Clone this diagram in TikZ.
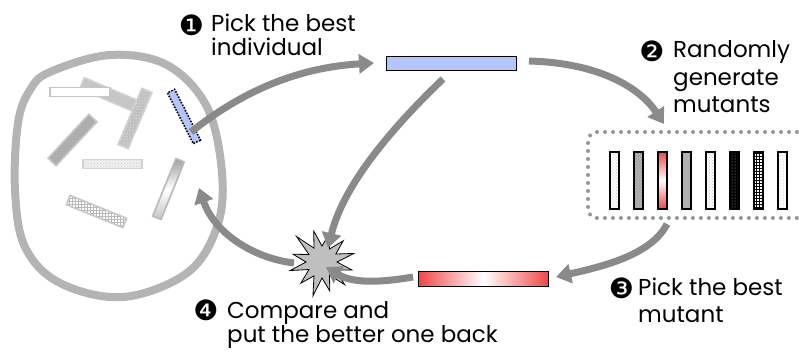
\documentclass[tikz,border=0pt]{standalone}
\usepackage{fontspec}
\setmainfont{Poppins}
\newfontfamily\dingfont{DejaVu Sans}
\usetikzlibrary{arrows.meta,patterns}
\definecolor{arrowgray}{RGB}{138,138,138}
\definecolor{blobgray}{RGB}{180,180,180}
\definecolor{barblue}{RGB}{180,196,255}
\definecolor{dotgray}{RGB}{150,150,150}
\definecolor{barred}{RGB}{240,70,70}
\begin{document}
\begin{tikzpicture}[x=1pt,y=-1pt,
  flow/.style={draw=arrowgray, line width=7pt, -{Triangle[width=19pt,length=15pt]}},
  lab/.style={anchor=base west, inner sep=0pt, font=\fontsize{23}{27}\selectfont},
  num/.style={inner sep=0pt, font=\dingfont\fontsize{28}{30}\selectfont},
  mut/.style={draw=black, line width=2pt, minimum width=9pt, minimum height=57pt, inner sep=0pt},
  rod/.style={line width=1.6pt, minimum width=61pt, minimum height=10pt, inner sep=0pt},
  wide/.style={draw=black, line width=1.8pt, minimum width=130pt, minimum height=14pt, inner sep=0pt}]
\useasboundingbox (0,0) rectangle (799,351);
\clip (0,0) rectangle (799,351);

% population blob
\draw[blobgray, line width=8pt] plot[smooth cycle, tension=0.6] coordinates
  {(50,72) (110,55) (167,65) (207,107) (222,173) (217,227) (187,273) (123,297) (60,283) (25,247) (15,190) (18,123) (30,90)};

% individuals in the population
\node[rod, draw=gray!35, fill=gray!45, minimum width=63pt, minimum height=12pt, rotate=-23] (r1) at (111,95.5) {};
\node[rod, draw=gray!45, fill=white, minimum width=60pt, minimum height=9pt] (r2) at (80,92) {};
\node[rod, draw=gray!35, preaction={fill=gray!50}, pattern=crosshatch dots, pattern color=gray!25, minimum height=11pt, rotate=67] (r3) at (135,118.5) {};
\node[rod, draw=gray!45, preaction={fill=gray!65}, pattern=dots, pattern color=gray!45, minimum width=60pt, minimum height=11pt, rotate=47] (r4) at (72.5,140) {};
\node[rod, draw=gray!35, preaction={fill=gray!12}, pattern=crosshatch dots, pattern color=gray!35, minimum width=59pt, minimum height=9pt] (r5) at (112.5,164) {};
\node[rod, draw=gray!55, top color=gray!75, bottom color=gray!45, middle color=white, minimum width=62pt, minimum height=9pt, rotate=68] (r6) at (168.5,189) {};
\node[rod, draw=gray!45, preaction={fill=white}, pattern=grid, pattern color=gray!55, minimum width=61pt, minimum height=10pt, rotate=-22] (r7) at (96.5,211.5) {};
\node[rod, draw=black, fill=barblue, line width=2.2pt, dash pattern=on 0pt off 3pt, line cap=round, minimum width=57pt, minimum height=8pt, rotate=-63] (best) at (184,116.5) {};

% top chosen individual
\node[wide, fill=barblue] (chosen) at (451.5,63.5) {};

% mutants
\node[draw=dotgray, rounded corners=9pt, line width=4pt, dash pattern=on 0pt off 8pt, line cap=round, minimum width=226pt, minimum height=86pt, inner sep=0pt] (mbox) at (701,175) {};
\node[mut, preaction={fill=white}, pattern=crosshatch dots, pattern color=gray!45] (m1) at (614.5,180.5) {};
\node[mut, preaction={fill=gray!55}, pattern=north east lines, pattern color=gray!85] (m2) at (638.5,180.5) {};
\node[mut, top color=barred, bottom color=barred, middle color=white] (m3) at (662.5,180.5) {};
\node[mut, fill=gray!60] (m4) at (686.5,180.5) {};
\node[mut, preaction={fill=white}, pattern=crosshatch dots, pattern color=gray!55] (m5) at (710.5,180.5) {};
\node[mut, preaction={fill=black}, pattern=dots, pattern color=gray!60] (m6) at (734.5,180.5) {};
\node[mut, preaction={fill=white}, pattern=grid, pattern color=black] (m7) at (758.5,180.5) {};
\node[mut, preaction={fill=white}, pattern=dots, pattern color=gray!60] (m8) at (782.5,180.5) {};

% best mutant
\node[wide, left color=barred, right color=barred, middle color=white, minimum height=15pt] (bestmut) at (483.5,279) {};

% starburst
\coordinate (burst) at (322,262);
\draw[black, fill=gray!50, line width=0.8pt, line join=miter, shift={(burst)}]
  (105:32pt) -- (120:16pt) -- (135:36pt) -- (150:15pt) -- (165:30pt) -- (180:16pt) --
  (195:33pt) -- (210:15pt) -- (225:30pt) -- (240:16pt) -- (255:35pt) -- (270:16pt) --
  (285:30pt) -- (300:15pt) -- (315:32pt) -- (330:16pt) -- (345:31pt) -- (0:15pt) --
  (15:33pt) -- (30:16pt) -- (45:30pt) -- (60:15pt) -- (75:30pt) -- (90:16pt) -- cycle;

% connector end points
\coordinate (a1s) at (191,132);
\coordinate (a1e) at (374,63);
\coordinate (a2s) at (529,61);
\coordinate (a2e) at (664,124);
\coordinate (a3s) at (667,224);
\coordinate (a3e) at (556,277);
\coordinate (a4s) at (413,277);
\coordinate (a4e) at (326,267);
\coordinate (a5s) at (443,79);
\coordinate (a5e) at (328,248);
\coordinate (a6s) at (294,263);
\coordinate (a6e) at (199,188);

% connectors
\draw[flow] (a1s) .. controls (235,97) and (290,68) .. (a1e);
\draw[flow] (a2s) .. controls (600,63) and (640,88) .. (a2e);
\draw[flow] (a3s) .. controls (652,254) and (605,266) .. (a3e);
\draw[flow] (a4s) .. controls (378,283) and (352,283) .. (a4e);
\draw[flow] (a5s) .. controls (398,122) and (344,182) .. (a5e);
\draw[flow] (a6s) .. controls (252,258) and (214,232) .. (a6e);

% labels
\node[num] (n1) at (191.5,25) {❶};
\node[lab] (l1a) at (211,31) {Pick the best};
\node[lab] (l1b) at (211,55) {individual};
\node[num] (n2) at (652,51) {❷};
\node[lab] (l2a) at (673,57) {Randomly};
\node[lab] (l2b) at (673,85) {generate};
\node[lab] (l2c) at (673,112) {mutants};
\node[num] (n3) at (621.5,288) {❸};
\node[lab] (l3a) at (638,295) {Pick the best};
\node[lab] (l3b) at (638,322) {mutant};
\node[num] (n4) at (206,310) {❹};
\node[lab] (l4a) at (227,318) {Compare and};
\node[lab] (l4b) at (227,342) {put the better one back};
\end{tikzpicture}
\end{document}
